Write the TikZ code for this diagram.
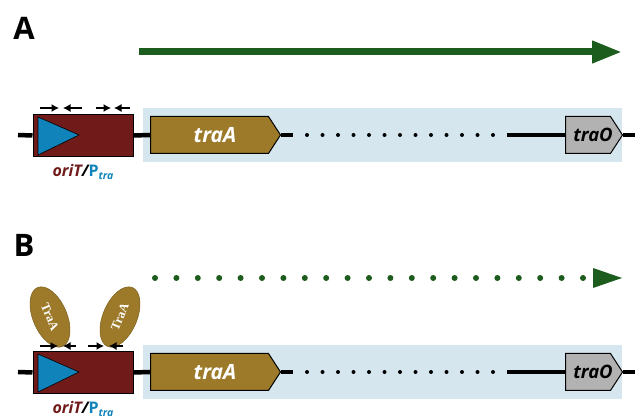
\documentclass[tikz,border=0pt]{standalone}
\usepackage{fontspec}
\setmainfont{Open Sans}
\newfontfamily\serifTra{Liberation Serif}
\usetikzlibrary{shapes.symbols,shapes.geometric,arrows.meta}
\definecolor{orired}{RGB}{112,26,26}
\definecolor{pblue}{RGB}{16,132,186}
\definecolor{olivegene}{RGB}{156,122,42}
\definecolor{lightbg}{RGB}{214,230,238}
\definecolor{grayO}{RGB}{178,178,178}
\definecolor{dgreen}{RGB}{28,92,28}
\tikzset{
  dna/.style={line width=4.5pt, black},
  oribox/.style={draw=black, line width=1pt, fill=orired, minimum width=100pt, minimum height=42pt, inner sep=0pt},
  genebox/.style={signal, signal to=east, signal pointer angle=114, draw=black, line width=1pt, minimum height=37pt, inner sep=0pt, anchor=west},
  traAbox/.style={genebox, fill=olivegene, minimum width=130pt},
  traObox/.style={genebox, fill=grayO, minimum width=57pt},
  traAtext/.style={text=white, inner sep=0pt, font=\fontsize{21}{21}\selectfont\bfseries\itshape},
  traOtext/.style={text=black, inner sep=0pt, font=\fontsize{18.5}{18.5}\selectfont\bfseries\itshape},
  bgband/.style={fill=lightbg, draw=none},
  smallarr/.style={line width=1.2pt, -{Latex[length=7.5pt,width=8pt]}},
  traprot/.style={ellipse, fill=olivegene, draw=olivegene!80!black, line width=0.5pt, minimum width=64pt, minimum height=34pt, inner sep=0pt, text=white, font=\serifTra\fontsize{12.5}{12.5}\selectfont\bfseries},
  panlabel/.style={font=\fontsize{31}{31}\selectfont\bfseries},
  orilabel/.style={anchor=base, inner sep=0pt, font=\fontsize{16}{16}\selectfont\bfseries\itshape},
  tridot/.style={fill=black},
}
\newcommand\mypanel[2]{%
  \fill[bgband] (143,#2-27) rectangle (622,#2+27);
  \node[oribox] (#1ori) at (83,#2+0.5) {};
  \fill[pblue, draw=black, line width=0.6pt] (38,#2-18) -- (79,#2) -- (38,#2+20) -- cycle;
  \node[traAbox] (#1traA) at (150,#2) {};
  \node[traAtext] (#1traAt) at (215,#2) {traA};
  \node[traObox] (#1traO) at (565,#2) {};
  \node[traOtext] (#1traOt) at (593,#2) {traO};
  \coordinate (#1start) at (18,#2);
  \coordinate (#1dotsL) at (293,#2);
  \coordinate (#1dotsR) at (507,#2);
  \coordinate (#1end) at (635,#2);
  \draw[dna] (#1start) -- (#1ori.west);
  \draw[dna] (#1ori.east) -- (#1traA.west);
  \draw[dna] (#1traA.east) -- (#1dotsL);
  \draw[dna] (#1dotsR) -- (#1traO.west);
  \draw[dna] (#1traO.east) -- (#1end);
  \foreach \i in {0,...,12} \fill[tridot] (307+15.5*\i,#2) circle (2pt);
  \node[orilabel] (#1lab) at (83,#2+42) {{\color{orired}oriT}/{\color{pblue}\upshape P\raisebox{-3pt}{\fontsize{10.5}{10.5}\selectfont\itshape tra}}};
}
\begin{document}
\begin{tikzpicture}[x=1pt,y=-1pt]
\useasboundingbox (0,0) rectangle (635,419);
% Panel A
\node[panlabel] (labA) at (24,28) {A};
\coordinate (gA1) at (139,52);
\coordinate (gA2) at (622,52);
\draw[dgreen, line width=7pt, -{Triangle[length=30pt,width=21pt]}] (gA1) -- (gA2);
\mypanel{a}{135}
\draw[smallarr] (40,108) -- (59,108);
\draw[smallarr] (82,108) -- (63,108);
\draw[smallarr] (96,108) -- (111,108);
\draw[smallarr] (130,108) -- (114,108);
% Panel B
\node[panlabel] (labB) at (24,245) {B};
\foreach \i in {0,...,20} \fill[dgreen] (155+21.4*\i,278) circle (3pt);
\fill[dgreen] (593,268) -- (622,278) -- (593,288) -- cycle;
\mypanel{b}{372}
\node[traprot, rotate=-67] (p1) at (50,317) {TraA};
\node[traprot, rotate=67] (p2) at (120,317) {TraA};
\draw[smallarr] (40,346) -- (58,346);
\draw[smallarr] (76,346) -- (63,346);
\draw[smallarr] (88,346) -- (104,346);
\draw[smallarr] (123,346) -- (109,346);
\end{tikzpicture}
\end{document}
